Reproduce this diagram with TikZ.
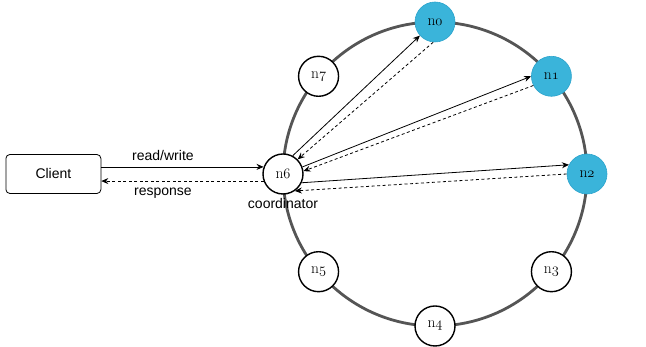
\documentclass[tikz,border=0pt]{standalone}
\usepackage{fontspec}
\setsansfont{Liberation Sans}
\usetikzlibrary{positioning, arrows.meta, calc}
\definecolor{ringgray}{HTML}{555555}
\definecolor{nodeblue}{HTML}{3AB4DA}
\definecolor{nodeblueline}{HTML}{2BA3CC}
\newcommand{\nid}[1]{n{\usefont{OML}{cmm}{m}{it}#1}}

\begin{document}
\begin{tikzpicture}[
        x=1pt, y=1pt,
        % ----- global styles -----
        >={Stealth[length=7pt,width=6pt]},
        % ring members
        plain/.style={circle, draw=black, line width=1.4pt, fill=white, minimum size=40pt, inner sep=0pt, font=\fontsize{15.5}{18}\selectfont},
        replica/.style={plain, draw=nodeblueline, line width=0.6pt, fill=nodeblue},
        clientbox/.style={draw, rounded corners=4pt, minimum width=95pt, minimum height=39pt, line width=0.8pt, font=\sffamily\fontsize{14}{16}\selectfont},
        tag/.style={font=\sffamily\fontsize{14}{16}\selectfont},
        req/.style={->, draw=black, line width=0.8pt},
        resp/.style={->, draw=black, line width=0.8pt, dash pattern=on 3pt off 2.5pt}
    ]
    \useasboundingbox (0,0) rectangle (646,347);
    \coordinate (hub) at (435,173);
    \draw[ringgray, line width=2.8pt] (hub) circle (152);

    \node[replica] (n0) at ($(hub)+(90:152)$) {\nid{0}};
    \node[replica] (n1) at ($(hub)+(40:152)$) {\nid{1}};
    \node[replica] (n2) at ($(hub)+(0:152)$) {\nid{2}};
    \node[plain] (n3) at ($(hub)+(320:152)$) {\nid{3}};
    \node[plain] (n4) at ($(hub)+(270:152)$) {\nid{4}};
    \node[plain] (n5) at ($(hub)+(220:152)$) {\nid{5}};
    \node[plain] (n6) at ($(hub)+(180:152)$) {\nid{6}};
    \node[plain] (n7) at ($(hub)+(140:152)$) {\nid{7}};

    \node[clientbox, left=161pt of n6] (client) {Client};
    \node[tag, below=0pt of n6] (coord) {coordinator};

    % ----- requests and replies -----
    \path[every node/.style={tag}]
    (client.east |- n6.160) edge[req] node[above=3pt, pos=0.38] {read/write} (n6.160)
    (n6.200) edge[resp] node[below=3pt, pos=0.62] {response} (client.east |- n6.200)
    (n6.62) edge[req] (n0.222)
    (n0.265) edge[resp] (n6.45)
    (n6.20) edge[req] (n1.180)
    (n1.207) edge[resp] (n6.8)
    (n6.-25) edge[req] (n2.153)
    (n2.180) edge[resp] (n6.-55);
\end{tikzpicture}
\end{document}
